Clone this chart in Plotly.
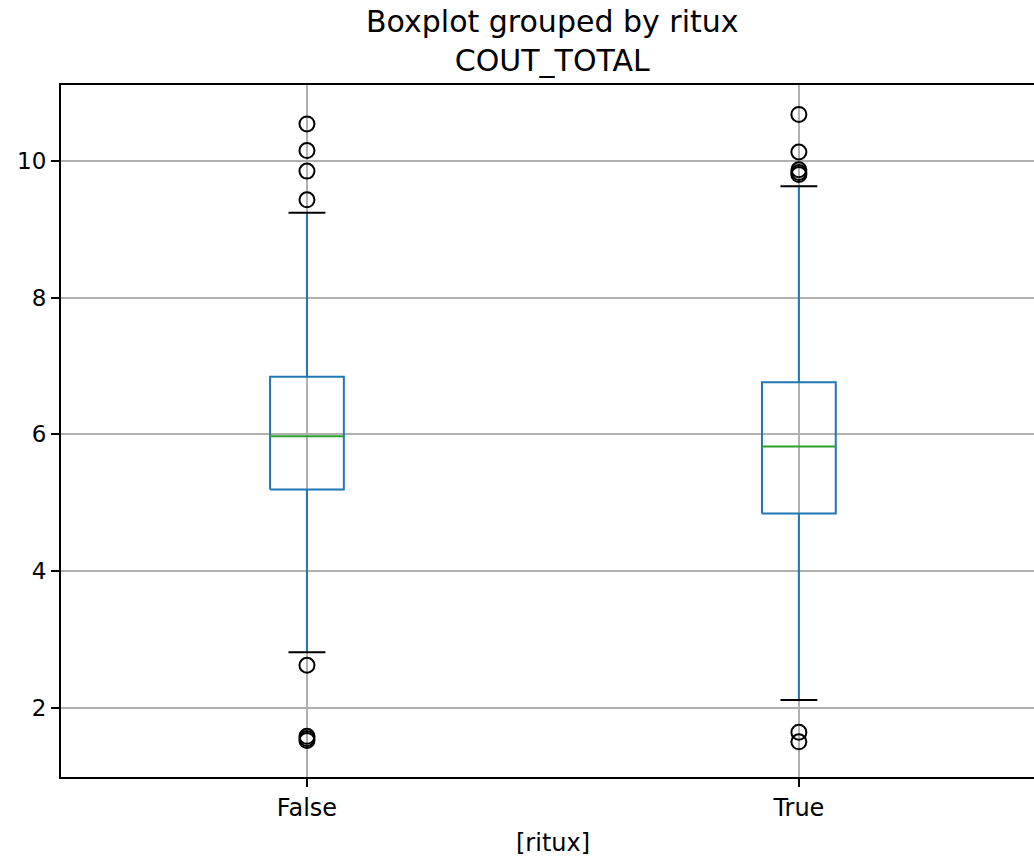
import plotly.graph_objects as go

# Summary statistics of COUT_TOTAL per ritux group
groups = ["False", "True"]
q1 = [5.19, 4.84]
median = [5.97, 5.82]
q3 = [6.84, 6.76]
whisker_low = [2.81, 2.11]
whisker_high = [9.24, 9.63]
outliers = [
    [10.54, 10.15, 9.85, 9.43, 2.62, 1.58, 1.55, 1.52],
    [10.68, 10.13, 9.87, 9.83, 9.80, 1.64, 1.50],
]

positions = [1, 2]
box_w = 0.15
cap_w = box_w / 2

BLUE = "#1f77b4"
GREEN = "#2ca02c"
FONT = "DejaVu Sans"

box_x, box_y = [], []
wh_x, wh_y = [], []
cap_x, cap_y = [], []
med_x, med_y = [], []
out_x, out_y = [], []
for i, p in enumerate(positions):
    l, r = p - box_w / 2, p + box_w / 2
    box_x += [l, r, r, l, l, None]
    box_y += [q1[i], q1[i], q3[i], q3[i], q1[i], None]
    wh_x += [p, p, None, p, p, None]
    wh_y += [q1[i], whisker_low[i], None, q3[i], whisker_high[i], None]
    cl, cr = p - cap_w / 2, p + cap_w / 2
    cap_x += [cl, cr, None, cl, cr, None]
    cap_y += [whisker_low[i], whisker_low[i], None, whisker_high[i], whisker_high[i], None]
    med_x += [l, r, None]
    med_y += [median[i], median[i], None]
    out_x += [p] * len(outliers[i])
    out_y += outliers[i]

fig = go.Figure()
fig.add_trace(go.Scatter(x=wh_x, y=wh_y, mode="lines",
                         line=dict(color=BLUE, width=2), hoverinfo="skip"))
fig.add_trace(go.Scatter(x=box_x, y=box_y, mode="lines",
                         line=dict(color=BLUE, width=2), hoverinfo="skip"))
fig.add_trace(go.Scatter(x=med_x, y=med_y, mode="lines",
                         line=dict(color=GREEN, width=2), hoverinfo="skip"))
fig.add_trace(go.Scatter(x=cap_x, y=cap_y, mode="lines",
                         line=dict(color="black", width=2), hoverinfo="skip"))
fig.add_trace(go.Scatter(x=out_x, y=out_y, mode="markers",
                         marker=dict(symbol="circle-open", size=15,
                                     color="black", line=dict(width=2))))

plot_h = 863 - 85 - 86

fig.update_layout(
    width=1034, height=863,
    margin=dict(l=61, r=0, t=85, b=86),
    plot_bgcolor="white", paper_bgcolor="white",
    showlegend=False,
    font=dict(family=FONT, size=24, color="black"),
    xaxis=dict(
        range=[0.5, 2.478],
        tickvals=positions, ticktext=groups,
        showgrid=True, gridcolor="#b0b0b0", gridwidth=1.5,
        zeroline=False,
        showline=True, mirror=True, linecolor="black", linewidth=2,
        ticks="outside", ticklen=8, tickwidth=1.5, tickcolor="black",
        tickfont=dict(size=24),
    ),
    yaxis=dict(
        range=[0.985, 11.11],
        tickvals=[2, 4, 6, 8, 10],
        showgrid=True, gridcolor="#b0b0b0", gridwidth=1.5,
        zeroline=False,
        showline=True, mirror=False, linecolor="black", linewidth=2,
        ticks="outside", ticklen=8, tickwidth=1.5, tickcolor="black",
        tickfont=dict(size=23),
    ),
    annotations=[
        dict(text="Boxplot grouped by ritux<br>COUT_TOTAL",
             x=1.5, xref="x", y=1 + (85 - 2) / plot_h, yref="paper",
             showarrow=False, font=dict(size=30, family=FONT),
             xanchor="center", yanchor="top"),
        dict(text="[ritux]", x=1.5, xref="x", y=-(843 - 777) / plot_h,
             yref="paper", showarrow=False, font=dict(size=24, family=FONT),
             xanchor="center", yanchor="middle"),
    ],
)

fig.write_html("out.html")
